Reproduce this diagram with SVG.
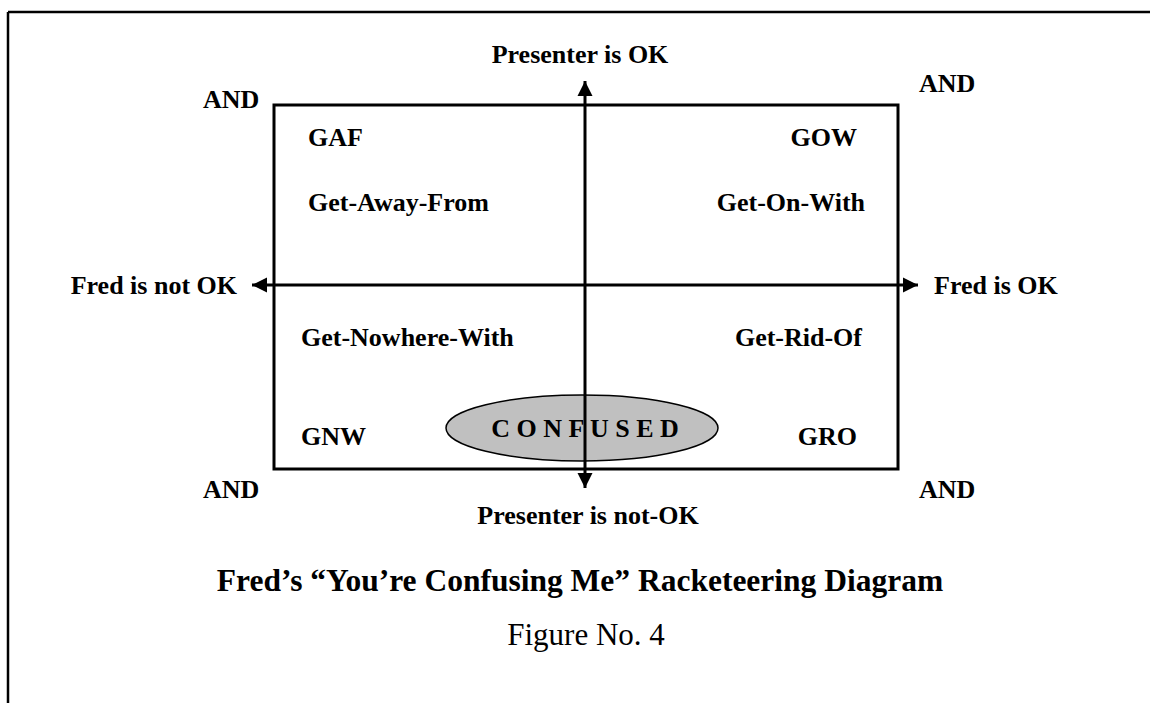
<svg xmlns="http://www.w3.org/2000/svg" width="1150" height="703" viewBox="0 0 1150 703">
  <style>
    .lbl { font-family: "Liberation Serif", "Times New Roman", serif; font-weight: bold; font-size: 26px; fill: #000; }
    .title { font-family: "Liberation Serif", "Times New Roman", serif; font-weight: bold; font-size: 31.5px; fill: #000; }
    .caption { font-family: "Liberation Serif", "Times New Roman", serif; font-size: 31px; fill: #000; }
    .axis { stroke: #000; stroke-width: 3; fill: none; }
  </style>
  <defs>
    <marker id="head" markerUnits="userSpaceOnUse" markerWidth="16" markerHeight="16" refX="15" refY="8" orient="auto">
      <path d="M0,0.5 L15,8 L0,15.5 z" fill="#000"/>
    </marker>
  </defs>
  <rect width="1150" height="703" fill="#fff"/>

  <!-- page frame: top and left rules -->
  <g id="frame">
    <line x1="8" y1="12" x2="1150" y2="12" stroke="#000" stroke-width="2.5"/>
    <line x1="8" y1="12" x2="8" y2="703" stroke="#000" stroke-width="2.5"/>
  </g>

  <!-- quadrant box -->
  <g id="box">
    <rect x="274" y="105" width="624" height="364" fill="none" stroke="#000" stroke-width="3"/>
  </g>

  <!-- centre ellipse -->
  <g id="confused">
    <ellipse cx="582" cy="428" rx="136" ry="33" fill="#c0c0c0" stroke="#000" stroke-width="1.5"/>
    <text class="lbl" x="585" y="437" text-anchor="middle">C O N F U S E D</text>
  </g>

  <!-- axes -->
  <g id="connectors">
    <line class="axis" x1="585" y1="280" x2="585" y2="81" marker-end="url(#head)"/>
    <line class="axis" x1="585" y1="280" x2="585" y2="488" marker-end="url(#head)"/>
    <line class="axis" x1="585" y1="285" x2="252" y2="285" marker-end="url(#head)"/>
    <line class="axis" x1="585" y1="285" x2="918" y2="285" marker-end="url(#head)"/>
  </g>

  <!-- axis labels -->
  <g id="axis-labels">
    <text class="lbl" x="580" y="63" text-anchor="middle">Presenter is OK</text>
    <text class="lbl" x="588" y="524" text-anchor="middle">Presenter is not-OK</text>
    <text class="lbl" x="237" y="294" text-anchor="end">Fred is not OK</text>
    <text class="lbl" x="934" y="294">Fred is OK</text>
  </g>

  <!-- corner labels -->
  <g id="corners">
    <text class="lbl" x="203" y="108">AND</text>
    <text class="lbl" x="919" y="92">AND</text>
    <text class="lbl" x="203" y="498">AND</text>
    <text class="lbl" x="919" y="498">AND</text>
  </g>

  <!-- quadrants -->
  <g id="q-gaf">
    <text class="lbl" x="308" y="146">GAF</text>
    <text class="lbl" x="308" y="211">Get-Away-From</text>
  </g>
  <g id="q-gow">
    <text class="lbl" x="857" y="146" text-anchor="end">GOW</text>
    <text class="lbl" x="865" y="211" text-anchor="end">Get-On-With</text>
  </g>
  <g id="q-gnw">
    <text class="lbl" x="301" y="346">Get-Nowhere-With</text>
    <text class="lbl" x="301" y="445">GNW</text>
  </g>
  <g id="q-gro">
    <text class="lbl" x="862" y="346" text-anchor="end">Get-Rid-Of</text>
    <text class="lbl" x="857" y="445" text-anchor="end">GRO</text>
  </g>

  <!-- caption -->
  <g id="caption">
    <text class="title" x="580" y="591" text-anchor="middle">Fred’s “You’re Confusing Me” Racketeering Diagram</text>
    <text class="caption" x="586" y="645" text-anchor="middle">Figure No. 4</text>
  </g>
</svg>
